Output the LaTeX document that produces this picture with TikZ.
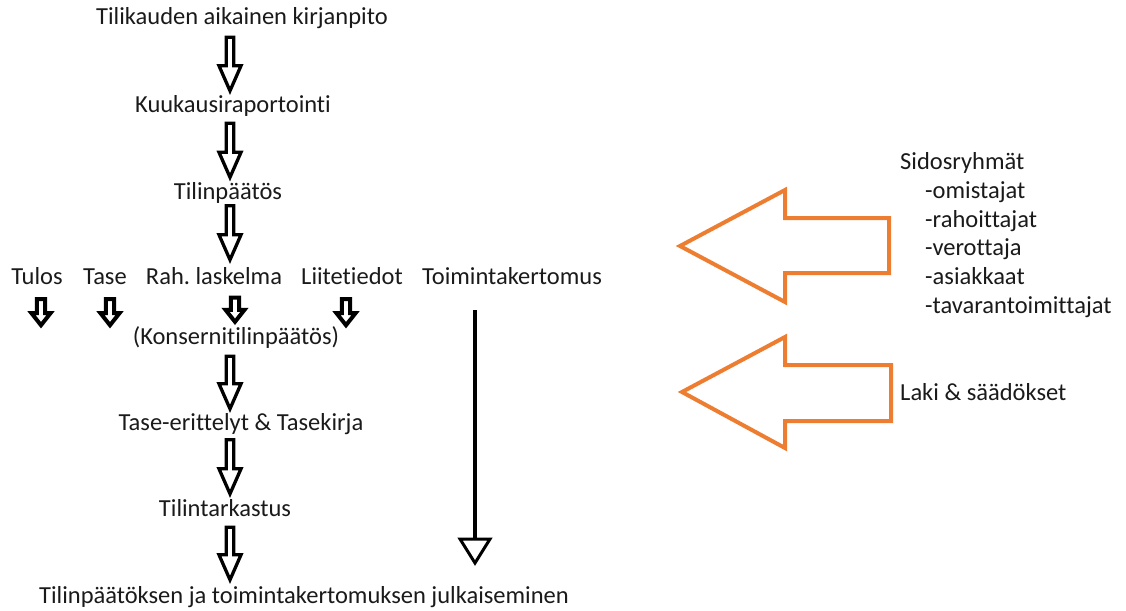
\documentclass[tikz,border=0pt]{standalone}
\usepackage{fontspec}
\setmainfont{Carlito}[Ligatures={NoCommon}]
\usetikzlibrary{calc}
\definecolor{offorange}{HTML}{ED7D31}
\definecolor{txtcol}{HTML}{1A1A1A}
\tikzset{
  txt/.style={font=\fontsize{24.5}{28}\selectfont\frenchspacing, text=txtcol, inner sep=0pt, text height=18pt, text depth=3pt},
  blockarrow/.style n args={4}{line width=#4, draw=black, fill=white, line join=miter,
    to path={($(\tikztostart)+(-#1,0)$) -- ($(\tikztotarget)+(-#1,-#3)$) -- ($(\tikztotarget)+(-#2,-#3)$)
      -- (\tikztotarget) -- ($(\tikztotarget)+(#2,-#3)$) -- ($(\tikztotarget)+(#1,-#3)$)
      -- ($(\tikztostart)+(#1,0)$) -- cycle}},
  bigarr/.style={blockarrow={3.8}{11}{25}{3.3pt}},
  smallarr/.style={blockarrow={4.2}{9.5}{12}{4pt}},
  orangearr/.style={draw=offorange, line width=4pt, line join=miter},
}
\begin{document}
\begin{tikzpicture}[x=1pt,y=-1pt]
\useasboundingbox (0,0) rectangle (1126,610);
\coordinate (ax) at (230,0);
% main column
\node[txt] (t1) at (242,17) {Tilikauden aikainen kirjanpito};
\node[txt] (t2) at (233,105) {Kuukausiraportointi};
\node[txt] (t3) at (228,192) {Tilinpäätös};
\node[txt] (tulos) at (37,277) {Tulos};
\node[txt] (tase) at (105,277) {Tase};
\node[txt] (rah) at (214,277) {Rah. laskelma};
\node[txt] (liite) at (352,277) {Liitetiedot};
\node[txt] (toim) at (512,277) {Toimintakertomus};
\node[txt] (kons) at (236,337) {(Konsernitilinpäätös)};
\node[txt] (tasee) at (241,423) {Tase-erittelyt \& Tasekirja};
\node[txt] (tilint) at (225,509) {Tilintarkastus};
\node[txt] (julk) at (304,596) {Tilinpäätöksen ja toimintakertomuksen julkaiseminen};
% big hollow arrows
\draw[bigarr] ($(t1.south -| ax)+(0,9.5)$) to ($(t2.north -| ax)+(0,-3.5)$);
\draw[bigarr] ($(t2.south -| ax)+(0,7.5)$) to ($(t3.north -| ax)+(0,-4)$);
\draw[bigarr] ($(t3.south -| ax)+(0,3)$) to ($(rah.north -| ax)+(0,-6.5)$);
\draw[bigarr] ($(kons.south -| ax)+(0,8.5)$) to ($(tasee.north -| ax)+(0,-3.5)$);
\draw[bigarr] ($(tasee.south -| ax)+(0,6)$) to ($(tilint.north -| ax)+(0,-4.5)$);
\draw[bigarr] ($(tilint.south -| ax)+(0,7.5)$) to ($(julk.north -| ax)+(0,-5.5)$);
% small arrows
\coordinate (tulosend) at ($(tulos.south)+(4,37.5)$);
\coordinate (taseend) at ($(tase.south)+(5,37.5)$);
\coordinate (liiteend) at ($(liite.south)+(-6,37.5)$);
\draw[smallarr] ($(tulos.south)+(4,11.5)$) to (tulosend);
\draw[smallarr] ($(tase.south)+(5,11.5)$) to (taseend);
\draw[smallarr] ($(rah.south)+(21,10)$) to ($(kons.north)+(-1,-4.5)$);
\draw[smallarr] ($(liite.south)+(-6,11.5)$) to (liiteend);
% long line arrow
\coordinate (longend) at (475,563);
\draw[line width=4pt] ($(toim.south)+(-37,22.5)$) -- ($(longend)+(0,-24)$);
\draw[line width=3pt, line join=miter, fill=white] ($(longend)+(-15,-24)$) -- ($(longend)+(15,-24)$) -- (longend) -- cycle;
% orange arrows
\draw[orangearr] (680,246) -- (785,190) -- (785,218) -- (889,218) -- (889,273) -- (785,273) -- (785,302) -- cycle;
\draw[orangearr] (682,392) -- (785,337) -- (785,365) -- (891,365) -- (891,421) -- (785,421) -- (785,448) -- cycle;
% right texts
\node[txt, anchor=west] (sid) at (900,162) {Sidosryhmät};
\node[txt, anchor=west] (om) at (925,191) {-omistajat};
\node[txt, anchor=west] (ra) at (925,220) {-rahoittajat};
\node[txt, anchor=west] (ve) at (925,248) {-verottaja};
\node[txt, anchor=west] (as) at (925,277) {-asiakkaat};
\node[txt, anchor=west] (ta) at (925,306) {-tavarantoimittajat};
\node[txt, anchor=west] (laki) at (900,393) {Laki \& säädökset};
\end{tikzpicture}
\end{document}
